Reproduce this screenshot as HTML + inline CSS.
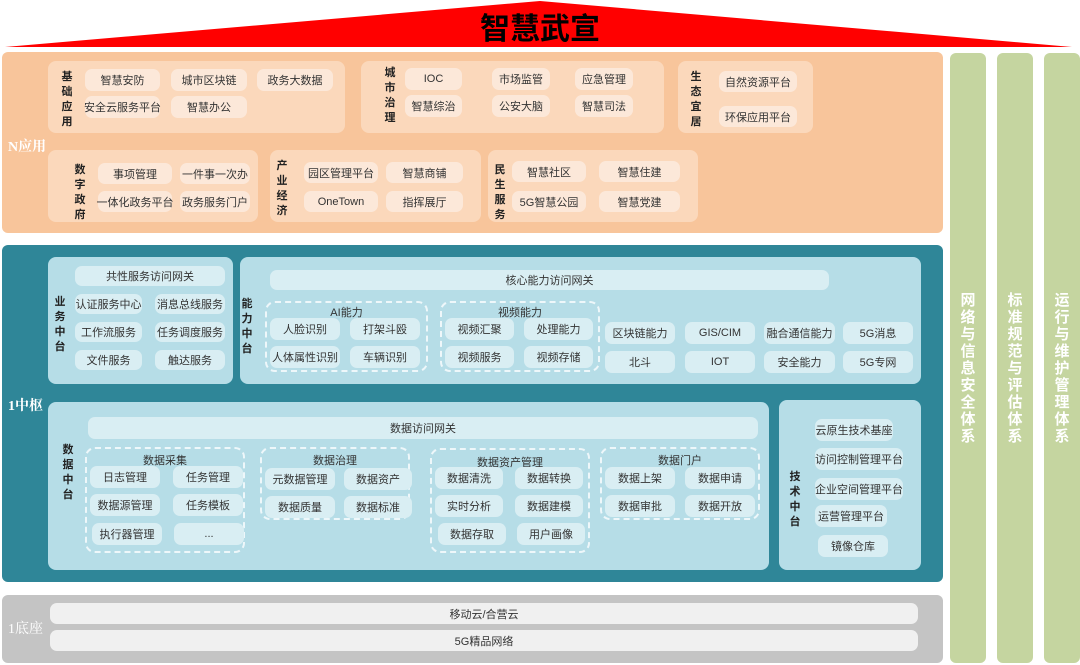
<!DOCTYPE html>
<html><head><meta charset="utf-8"><style>
*{margin:0;padding:0;box-sizing:border-box}
body{width:1080px;height:665px;position:relative;background:#fff;font-family:"Liberation Sans","Noto Sans CJK SC",sans-serif;overflow:hidden}
.a{position:absolute}
.p{position:absolute;display:flex;align-items:center;justify-content:center;font-size:11px;color:#333;border-radius:7px;white-space:nowrap}
.o{background:#fce8d9}
.b{background:#d9eef3}
.g{background:#f0f0f0}
.v{position:absolute;font-size:11px;font-weight:bold;color:#222;width:14px;line-height:15px;text-align:center}
.sub{position:absolute;background:#fbd8bb;border-radius:8px}
.lb{position:absolute;background:#b6dde7;border-radius:8px}
.d{position:absolute;border:2px dashed #eef7fa;border-radius:10px}
.t{position:absolute;font-size:11px;color:#333;text-align:center}
.gr{position:absolute;top:53px;width:36px;height:610px;background:#c5d5a0;border-radius:6px}
.gt{position:absolute;top:292px;width:36px;color:#fff;font-weight:bold;font-size:15px;line-height:17px;text-align:center}
.L{position:absolute;color:#fff;font-weight:bold;font-size:14px;font-family:"Liberation Serif","Noto Serif CJK SC",serif}
</style></head><body>
<svg class="a" style="left:0;top:0" width="1080" height="50"><polygon points="5,47 540,1 1072,47" fill="#ff0000"/></svg>
<div class="a" style="left:0;width:1080px;top:12px;text-align:center;font-size:30px;font-weight:bold;color:#000;line-height:36px">智慧武宣</div>

<!-- N应用 -->
<div class="a" style="left:2px;top:52px;width:941px;height:181px;background:#f8c59b;border-radius:6px"></div>
<div class="L" style="left:8px;top:136px">N应用</div>
<div class="sub" style="left:48px;top:61px;width:297px;height:72px"></div>
<div class="v" style="left:60px;top:70px">基<br>础<br>应<br>用</div>
<div class="p o" style="left:85px;top:69px;width:75px;height:22px">智慧安防</div>
<div class="p o" style="left:171px;top:69px;width:76px;height:22px">城市区块链</div>
<div class="p o" style="left:257px;top:69px;width:76px;height:22px">政务大数据</div>
<div class="p o" style="left:85px;top:96px;width:75px;height:22px">安全云服务平台</div>
<div class="p o" style="left:171px;top:96px;width:76px;height:22px">智慧办公</div>

<div class="sub" style="left:361px;top:61px;width:303px;height:72px"></div>
<div class="v" style="left:383px;top:66px">城<br>市<br>治<br>理</div>
<div class="p o" style="left:405px;top:68px;width:57px;height:22px">IOC</div>
<div class="p o" style="left:492px;top:68px;width:58px;height:22px">市场监管</div>
<div class="p o" style="left:575px;top:68px;width:58px;height:22px">应急管理</div>
<div class="p o" style="left:405px;top:95px;width:57px;height:22px">智慧综治</div>
<div class="p o" style="left:492px;top:95px;width:58px;height:22px">公安大脑</div>
<div class="p o" style="left:575px;top:95px;width:58px;height:22px">智慧司法</div>

<div class="sub" style="left:678px;top:61px;width:135px;height:72px"></div>
<div class="v" style="left:689px;top:70px">生<br>态<br>宜<br>居</div>
<div class="p o" style="left:719px;top:71px;width:78px;height:21px">自然资源平台</div>
<div class="p o" style="left:719px;top:106px;width:78px;height:21px">环保应用平台</div>

<div class="sub" style="left:48px;top:150px;width:210px;height:72px"></div>
<div class="v" style="left:73px;top:163px">数<br>字<br>政<br>府</div>
<div class="p o" style="left:98px;top:163px;width:74px;height:21px">事项管理</div>
<div class="p o" style="left:180px;top:163px;width:70px;height:21px">一件事一次办</div>
<div class="p o" style="left:98px;top:191px;width:74px;height:21px">一体化政务平台</div>
<div class="p o" style="left:180px;top:191px;width:70px;height:21px">政务服务门户</div>

<div class="sub" style="left:270px;top:150px;width:211px;height:72px"></div>
<div class="v" style="left:275px;top:159px">产<br>业<br>经<br>济</div>
<div class="p o" style="left:304px;top:162px;width:74px;height:21px">园区管理平台</div>
<div class="p o" style="left:386px;top:162px;width:77px;height:21px">智慧商铺</div>
<div class="p o" style="left:304px;top:191px;width:74px;height:21px">OneTown</div>
<div class="p o" style="left:386px;top:191px;width:77px;height:21px">指挥展厅</div>

<div class="sub" style="left:488px;top:150px;width:210px;height:72px"></div>
<div class="v" style="left:493px;top:163px">民<br>生<br>服<br>务</div>
<div class="p o" style="left:512px;top:161px;width:74px;height:21px">智慧社区</div>
<div class="p o" style="left:599px;top:161px;width:81px;height:21px">智慧住建</div>
<div class="p o" style="left:512px;top:191px;width:74px;height:21px">5G智慧公园</div>
<div class="p o" style="left:599px;top:191px;width:81px;height:21px">智慧党建</div>

<!-- 1中枢 -->
<div class="a" style="left:2px;top:245px;width:941px;height:337px;background:#2f8698;border-radius:6px"></div>
<div class="L" style="left:8px;top:395px">1中枢</div>

<div class="lb" style="left:48px;top:257px;width:185px;height:127px"></div>
<div class="v" style="left:53px;top:295px">业<br>务<br>中<br>台</div>
<div class="p b" style="left:75px;top:266px;width:150px;height:20px">共性服务访问网关</div>
<div class="p b" style="left:75px;top:294px;width:67px;height:20px">认证服务中心</div>
<div class="p b" style="left:155px;top:294px;width:70px;height:20px">消息总线服务</div>
<div class="p b" style="left:75px;top:322px;width:67px;height:20px">工作流服务</div>
<div class="p b" style="left:155px;top:322px;width:70px;height:20px">任务调度服务</div>
<div class="p b" style="left:75px;top:350px;width:67px;height:20px">文件服务</div>
<div class="p b" style="left:155px;top:350px;width:70px;height:20px">触达服务</div>

<div class="lb" style="left:240px;top:257px;width:681px;height:127px"></div>
<div class="v" style="left:240px;top:297px">能<br>力<br>中<br>台</div>
<div class="p b" style="left:270px;top:270px;width:559px;height:20px">核心能力访问网关</div>
<div class="d" style="left:265px;top:301px;width:163px;height:71px"></div>
<div class="t" style="left:265px;top:304px;width:163px">AI能力</div>
<div class="p b" style="left:270px;top:318px;width:70px;height:22px">人脸识别</div>
<div class="p b" style="left:350px;top:318px;width:70px;height:22px">打架斗殴</div>
<div class="p b" style="left:270px;top:346px;width:70px;height:22px">人体属性识别</div>
<div class="p b" style="left:350px;top:346px;width:70px;height:22px">车辆识别</div>
<div class="d" style="left:440px;top:301px;width:160px;height:71px"></div>
<div class="t" style="left:440px;top:304px;width:160px">视频能力</div>
<div class="p b" style="left:445px;top:318px;width:69px;height:22px">视频汇聚</div>
<div class="p b" style="left:524px;top:318px;width:69px;height:22px">处理能力</div>
<div class="p b" style="left:445px;top:346px;width:69px;height:22px">视频服务</div>
<div class="p b" style="left:524px;top:346px;width:69px;height:22px">视频存储</div>
<div class="p b" style="left:605px;top:322px;width:70px;height:22px">区块链能力</div>
<div class="p b" style="left:685px;top:322px;width:70px;height:22px">GIS/CIM</div>
<div class="p b" style="left:764px;top:322px;width:71px;height:22px">融合通信能力</div>
<div class="p b" style="left:843px;top:322px;width:70px;height:22px">5G消息</div>
<div class="p b" style="left:605px;top:351px;width:70px;height:22px">北斗</div>
<div class="p b" style="left:685px;top:351px;width:70px;height:22px">IOT</div>
<div class="p b" style="left:764px;top:351px;width:71px;height:22px">安全能力</div>
<div class="p b" style="left:843px;top:351px;width:70px;height:22px">5G专网</div>

<div class="lb" style="left:48px;top:402px;width:721px;height:168px"></div>
<div class="v" style="left:61px;top:443px">数<br>据<br>中<br>台</div>
<div class="p b" style="left:88px;top:417px;width:670px;height:22px">数据访问网关</div>
<div class="d" style="left:85px;top:447px;width:160px;height:106px"></div>
<div class="t" style="left:85px;top:452px;width:160px">数据采集</div>
<div class="p b" style="left:90px;top:466px;width:70px;height:22px">日志管理</div>
<div class="p b" style="left:173px;top:466px;width:70px;height:22px">任务管理</div>
<div class="p b" style="left:90px;top:494px;width:70px;height:22px">数据源管理</div>
<div class="p b" style="left:173px;top:494px;width:70px;height:22px">任务模板</div>
<div class="p b" style="left:92px;top:523px;width:70px;height:22px">执行器管理</div>
<div class="p b" style="left:174px;top:523px;width:70px;height:22px">...</div>
<div class="d" style="left:260px;top:447px;width:150px;height:73px"></div>
<div class="t" style="left:260px;top:452px;width:150px">数据治理</div>
<div class="p b" style="left:265px;top:468px;width:70px;height:22px">元数据管理</div>
<div class="p b" style="left:344px;top:468px;width:68px;height:22px">数据资产</div>
<div class="p b" style="left:265px;top:496px;width:70px;height:22px">数据质量</div>
<div class="p b" style="left:344px;top:496px;width:68px;height:22px">数据标准</div>
<div class="d" style="left:430px;top:448px;width:160px;height:105px"></div>
<div class="t" style="left:430px;top:454px;width:160px">数据资产管理</div>
<div class="p b" style="left:435px;top:467px;width:68px;height:22px">数据清洗</div>
<div class="p b" style="left:515px;top:467px;width:68px;height:22px">数据转换</div>
<div class="p b" style="left:435px;top:495px;width:68px;height:22px">实时分析</div>
<div class="p b" style="left:515px;top:495px;width:68px;height:22px">数据建模</div>
<div class="p b" style="left:438px;top:523px;width:68px;height:22px">数据存取</div>
<div class="p b" style="left:517px;top:523px;width:68px;height:22px">用户画像</div>
<div class="d" style="left:600px;top:447px;width:160px;height:73px"></div>
<div class="t" style="left:600px;top:452px;width:160px">数据门户</div>
<div class="p b" style="left:605px;top:467px;width:70px;height:22px">数据上架</div>
<div class="p b" style="left:685px;top:467px;width:70px;height:22px">数据申请</div>
<div class="p b" style="left:605px;top:495px;width:70px;height:22px">数据审批</div>
<div class="p b" style="left:685px;top:495px;width:70px;height:22px">数据开放</div>

<div class="lb" style="left:779px;top:400px;width:142px;height:170px"></div>
<div class="v" style="left:788px;top:470px">技<br>术<br>中<br>台</div>
<div class="p b" style="left:815px;top:419px;width:78px;height:22px">云原生技术基座</div>
<div class="p b" style="left:815px;top:448px;width:88px;height:22px">访问控制管理平台</div>
<div class="p b" style="left:815px;top:478px;width:88px;height:22px">企业空间管理平台</div>
<div class="p b" style="left:815px;top:505px;width:72px;height:22px">运营管理平台</div>
<div class="p b" style="left:818px;top:535px;width:70px;height:22px">镜像仓库</div>

<!-- 1底座 -->
<div class="a" style="left:2px;top:595px;width:941px;height:68px;background:#c4c4c4;border-radius:6px"></div>
<div class="L" style="left:8px;top:618px;font-weight:normal">1底座</div>
<div class="p g" style="left:50px;top:603px;width:868px;height:21px">移动云/合营云</div>
<div class="p g" style="left:50px;top:630px;width:868px;height:21px">5G精品网络</div>

<!-- right columns -->
<div class="gr" style="left:950px"></div>
<div class="gr" style="left:997px"></div>
<div class="gr" style="left:1044px"></div>
<div class="gt" style="left:950px">网<br>络<br>与<br>信<br>息<br>安<br>全<br>体<br>系</div>
<div class="gt" style="left:997px">标<br>准<br>规<br>范<br>与<br>评<br>估<br>体<br>系</div>
<div class="gt" style="left:1044px">运<br>行<br>与<br>维<br>护<br>管<br>理<br>体<br>系</div>
</body></html>
